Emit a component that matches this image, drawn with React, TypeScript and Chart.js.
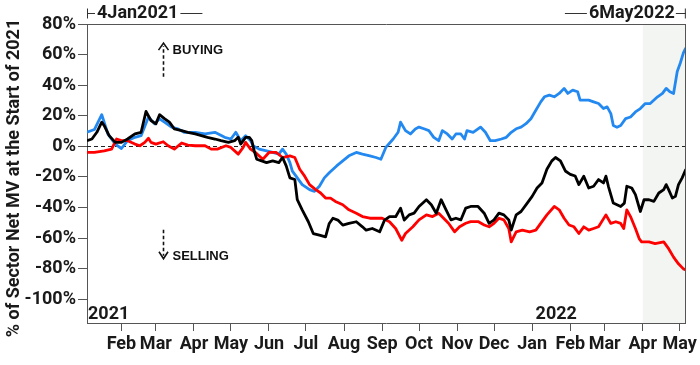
import React, { useEffect, useRef } from "react";
import { Chart, registerables } from "chart.js";

Chart.register(...registerables);

// x values are calendar days counted from 4 Jan 2021 (day 0) to 6 May 2022 (day 487)
const startDay = 0;
const endDay = 487;
const monthTickDays = [28, 56, 87, 117, 148, 178, 209, 240, 270, 301, 331, 362, 393, 421, 452, 482];
const monthTickLabels = ["Feb", "Mar", "Apr", "May", "Jun", "Jul", "Aug", "Sep", "Oct", "Nov", "Dec", "Jan", "Feb", "Mar", "Apr", "May"];
const yTickValues = [-100, -80, -60, -40, -20, 0, 20, 40, 60, 80];
const yearLabels = ["2021", "2022"];
const yearLabelDays = [0, 364];
const shadeStartDay = 452;
const startLabel = "4Jan2021";
const endLabel = "6May2022";
const yTitle = "% of Sector Net MV at the Start of 2021";

const blueDays = [0, 6, 12, 17, 23, 28, 33, 39, 44, 50, 55, 59, 63, 69, 74, 79, 88, 96, 104, 112, 117, 121, 125, 129, 133, 135, 140, 146, 151, 156, 159, 162, 165, 167, 170, 175, 181, 185, 189, 193, 197, 203, 208, 213, 219, 224, 230, 235, 239, 243, 249, 253, 255, 259, 263, 267, 270, 274, 278, 282, 286, 289, 293, 297, 300, 304, 307, 309, 314, 318, 320, 324, 328, 332, 337, 341, 345, 349, 353, 357, 361, 365, 369, 372, 376, 380, 384, 388, 391, 395, 399, 401, 404, 408, 412, 416, 420, 423, 426, 428, 431, 434, 438, 442, 446, 450, 454, 458, 464, 468, 471, 474, 477, 480, 482.5, 485, 487];
const blueValues = [9.2, 11, 20.7, 8.1, 1.5, -1.4, 3.7, 5.9, 7, 19.2, 14.7, 18, 15.8, 12.5, 11.4, 9.2, 9.2, 8.1, 9.2, 5.9, 4.8, 9.2, 3.7, 7, 3.7, 0.4, -1.8, -2.9, -4, -5.1, -1.8, -5.1, -10.6, -16.2, -19.5, -25, -28.3, -29.4, -26.1, -20.6, -17.3, -12.8, -9.5, -6.2, -4, -5.1, -6.2, -7.3, -8.4, -0.7, 4.8, 9.2, 15.8, 10.3, 8.1, 11.4, 12.6, 11.5, 10.3, 5.9, 3.7, 10.3, 8.1, 4.8, 8.1, 8.1, 4.8, 10.3, 9.2, 11.5, 12.6, 9.2, 3.7, 3.7, 4.8, 5.9, 9.2, 11.5, 12.6, 14.8, 18.1, 23.6, 29.1, 32.4, 33.5, 32.4, 34.6, 37.9, 34.6, 36.8, 35.7, 30.2, 30.2, 30.2, 29.1, 28, 24.7, 25.8, 21.4, 13.6, 12.5, 13.6, 18.1, 19.2, 22.5, 24.7, 28, 28, 32.4, 34.6, 37.9, 35.7, 34.6, 49, 54.5, 61.1, 64.4];

const blackDays = [0, 4, 8, 12, 14, 18, 23, 28, 33, 39, 44, 48, 52, 56, 59, 63, 67, 71, 77, 82, 88, 93, 98, 104, 109, 115, 120, 123, 125, 129, 132, 134, 136, 138, 142, 146, 151, 156, 159, 162, 165, 169, 171, 175, 180, 184, 189, 194, 197, 200, 204, 208, 213, 219, 224, 227, 232, 238, 242, 246, 251, 255, 258, 262, 266, 270, 276, 280, 284, 288, 292, 296, 300, 304, 308, 312, 318, 323, 327, 331, 335, 339, 343, 345, 349, 353, 358, 362, 366, 370, 374, 378, 381, 385, 389, 393, 397, 400, 404, 408, 412, 416, 420, 422, 424, 428, 431, 434, 437, 439, 443, 446, 450, 453, 457, 461, 465, 469, 471, 473, 476, 478.5, 481, 484, 487];
const blackValues = [3.7, 4.8, 9.2, 15.8, 13.6, 7, 2.6, 2.6, 4.8, 8.1, 9.2, 22.9, 16.9, 14.7, 20.7, 18.1, 15.8, 11.4, 10.3, 9.2, 8.1, 7, 5.9, 4.8, 3.7, 2.6, 3.7, 5.9, 1.5, 5.9, 5.9, 3.7, -3, -8.4, -9.5, -10.6, -9.5, -10.6, -7.3, -12.8, -20.6, -21.7, -34.9, -41.5, -49.3, -57, -58.1, -59.2, -50.4, -47, -48.2, -51.5, -50.4, -49.3, -52.6, -54.8, -53.7, -55.9, -48.2, -46, -46, -40.4, -48.2, -44.8, -43.7, -39.3, -34.9, -38.2, -43.7, -34.9, -41.5, -48.1, -47, -48.1, -40.4, -39.3, -39.3, -43.7, -50.3, -48.1, -43.7, -44.8, -48.1, -54.8, -44.8, -42.6, -37.1, -32.7, -27.2, -23.9, -15, -9.5, -7.3, -9.5, -16.1, -18.3, -19.4, -25, -19.5, -27.2, -26.1, -21.7, -23.9, -19.5, -26.1, -37.1, -38.2, -39.3, -37.1, -26.1, -27.2, -31.6, -42.6, -34.9, -34.9, -36, -30.5, -28.3, -25, -28.3, -33.8, -32.7, -25, -20.6, -15];

const redDays = [0, 6, 14, 20, 24, 28, 33, 39, 43, 47, 50, 52, 56, 62, 66, 71, 77, 82, 88, 96, 101, 106, 113, 117, 123, 127, 129, 133, 137, 143, 148, 154, 159, 165, 169, 173, 177, 181, 186, 190, 194, 198, 202, 208, 213, 219, 224, 230, 235, 240, 246, 251, 256, 259, 265, 270, 276, 281, 286, 290, 294, 299, 303, 308, 312, 318, 323, 327, 331, 335, 339, 343, 345, 349, 354, 360, 365, 370, 374, 380, 384, 388, 392, 396, 400, 404, 408, 412, 416, 422, 426, 430, 434, 436.5, 439, 442, 446, 449, 451, 457, 462, 469, 473, 477, 481, 485, 487];
const redValues = [-4, -4, -2.9, -1.8, 4.8, 3.7, 3.7, 1.5, 0.4, 2.6, 5.3, 2.6, 1.5, 3, 0.4, -1.8, 2.2, 0.8, 0.4, 0.4, -1.8, -1.8, 0.4, -0.7, -5.1, -0.7, 2.6, -1.8, -4, -8.4, -4, -4, -7.3, -6.2, -7.3, -15, -19.5, -25, -28.3, -30.5, -33.8, -33.8, -36, -38.2, -41.5, -43.7, -45.9, -47, -47, -47, -49.3, -53.7, -61.4, -57, -52.6, -48.1, -44.8, -45.9, -43.7, -47, -50.3, -55.9, -52.6, -50.3, -49.2, -49.2, -51.4, -52.6, -50.3, -47, -48.1, -53.7, -62.5, -55.9, -54.8, -55.9, -54.8, -49.2, -44.8, -39.3, -41.5, -47, -51.4, -52.6, -57, -52.6, -54.8, -53.7, -52.6, -44.8, -50.4, -49.3, -50.4, -53.7, -41.5, -45.9, -53.7, -60.3, -62.5, -62.5, -63.6, -62.5, -66.9, -72.4, -76.8, -80.1, -80.8];

const toPoints = (days: number[], values: number[]) => days.map((d, i) => ({ x: d, y: values[i] }));

const AXIS_COLOR = "#555555";
const TEXT_COLOR = "#1a1a1a";
const FONT_FAMILY = "Roboto";

const decorPlugin = {
  id: "decor",
  beforeDraw(chart: any) {
    const { ctx, chartArea, scales } = chart;
    const x = scales.x;
    const xs = x.getPixelForValue(shadeStartDay);
    ctx.save();
    ctx.fillStyle = "#f3f5f3";
    ctx.fillRect(xs, chartArea.top, chartArea.right - xs, chartArea.bottom - chartArea.top);
    ctx.restore();
  },
  beforeDatasetsDraw(chart: any) {
    const { ctx, chartArea, scales } = chart;
    const y0 = Math.round(scales.y.getPixelForValue(0)) + 0.5;
    ctx.save();
    ctx.strokeStyle = "#222";
    ctx.lineWidth = 1;
    ctx.setLineDash([4, 3]);
    ctx.beginPath();
    ctx.moveTo(chartArea.left, y0);
    ctx.lineTo(chartArea.right, y0);
    ctx.stroke();
    ctx.restore();
  },
  afterDraw(chart: any) {
    const { ctx, chartArea, scales } = chart;
    const x = scales.x;
    const y = scales.y;
    const L = chartArea.left;
    const R = chartArea.right;
    const T = chartArea.top;
    const B = chartArea.bottom;
    ctx.save();
    // top and right frame
    ctx.strokeStyle = AXIS_COLOR;
    ctx.lineWidth = 1;
    ctx.beginPath();
    ctx.moveTo(L, Math.round(T) + 0.5);
    ctx.lineTo(R, Math.round(T) + 0.5);
    ctx.moveTo(Math.round(R) - 0.5, T);
    ctx.lineTo(Math.round(R) - 0.5, B);
    ctx.stroke();

    // year labels
    ctx.fillStyle = TEXT_COLOR;
    ctx.font = `bold 18px ${FONT_FAMILY}`;
    ctx.textBaseline = "alphabetic";
    ctx.textAlign = "left";
    yearLabels.forEach((lab, i) => {
      ctx.fillText(lab, x.getPixelForValue(yearLabelDays[i]) + 1, B - 4);
    });

    // top date range markers
    const ty = 13.5;
    ctx.font = `bold 18px ${FONT_FAMILY}`;
    ctx.textBaseline = "middle";
    ctx.strokeStyle = "#333";
    ctx.lineWidth = 1;
    const lw = ctx.measureText(startLabel).width;
    const lx = x.getPixelForValue(startDay);
    ctx.textAlign = "left";
    ctx.fillText(startLabel, lx + 10, ty);
    ctx.beginPath();
    ctx.moveTo(lx + 0.5, ty - 5);
    ctx.lineTo(lx + 0.5, ty + 5);
    ctx.moveTo(lx, ty);
    ctx.lineTo(lx + 8, ty);
    ctx.moveTo(lx + 12 + lw, ty);
    ctx.lineTo(lx + 12 + lw + 22, ty);
    ctx.stroke();
    const rw = ctx.measureText(endLabel).width;
    const rx = x.getPixelForValue(endDay);
    ctx.textAlign = "right";
    ctx.fillText(endLabel, rx - 11, ty);
    ctx.beginPath();
    ctx.moveTo(rx - 0.5, ty - 5);
    ctx.lineTo(rx - 0.5, ty + 5);
    ctx.moveTo(rx, ty);
    ctx.lineTo(rx - 10, ty);
    ctx.moveTo(rx - 13 - rw, ty);
    ctx.lineTo(rx - 13 - rw - 22, ty);
    ctx.stroke();

    // buying / selling arrows
    const ax = Math.round(x.getPixelForValue(62)) + 0.5;
    ctx.strokeStyle = "#111";
    ctx.lineWidth = 1.6;
    const bTip = y.getPixelForValue(67.5);
    const bTail = y.getPixelForValue(45.5);
    ctx.setLineDash([3.5, 2.5]);
    ctx.beginPath();
    ctx.moveTo(ax, bTail);
    ctx.lineTo(ax, bTip + 3);
    ctx.stroke();
    const sTail = y.getPixelForValue(-54.5);
    const sTip = y.getPixelForValue(-73.5);
    ctx.beginPath();
    ctx.moveTo(ax, sTail);
    ctx.lineTo(ax, sTip - 3);
    ctx.stroke();
    ctx.setLineDash([]);
    ctx.beginPath();
    ctx.moveTo(ax - 5, bTip + 7);
    ctx.lineTo(ax, bTip);
    ctx.lineTo(ax + 5, bTip + 7);
    ctx.moveTo(ax - 4.5, sTip - 7);
    ctx.lineTo(ax, sTip);
    ctx.lineTo(ax + 4.5, sTip - 7);
    ctx.stroke();
    ctx.fillStyle = "#111";
    ctx.font = `bold 13px "Liberation Sans", Arial, sans-serif`;
    ctx.textAlign = "left";
    ctx.textBaseline = "middle";
    ctx.fillText("BUYING", ax + 9, y.getPixelForValue(62.5));
    ctx.fillText("SELLING", ax + 9, y.getPixelForValue(-72));

    // y axis title
    ctx.fillStyle = TEXT_COLOR;
    ctx.font = `bold 18px ${FONT_FAMILY}`;
    ctx.textAlign = "center";
    ctx.textBaseline = "middle";
    ctx.translate(14, 178);
    ctx.rotate(-Math.PI / 2);
    ctx.fillText(yTitle, 0, 0);
    ctx.restore();
  },
};

export default function App() {
  const canvasRef = useRef<HTMLCanvasElement | null>(null);

  useEffect(() => {
    if (!canvasRef.current) return;
    const chart = new Chart(canvasRef.current, {
      type: "line",
      data: {
        datasets: [
          {
            label: "Black",
            data: toPoints(blackDays, blackValues),
            borderColor: "#000000",
            borderWidth: 2.8,
            pointRadius: 0,
            tension: 0,
            borderJoinStyle: "round",
          },
          {
            label: "Red",
            data: toPoints(redDays, redValues),
            borderColor: "#ff0000",
            borderWidth: 2.8,
            pointRadius: 0,
            tension: 0,
            borderJoinStyle: "round",
          },
          {
            label: "Blue",
            data: toPoints(blueDays, blueValues),
            borderColor: "#2389f0",
            borderWidth: 2.8,
            pointRadius: 0,
            tension: 0,
            borderJoinStyle: "round",
          },
        ],
      },
      options: {
        animation: false,
        responsive: false,
        maintainAspectRatio: false,
        layout: { padding: { left: 0, top: 24, right: 13, bottom: 0 } },
        plugins: { legend: { display: false }, tooltip: { enabled: false }, title: { display: false } },
        scales: {
          x: {
            type: "linear",
            min: startDay,
            max: endDay,
            afterFit: (s: any) => {
              s.height = 42;
            },
            afterBuildTicks: (s: any) => {
              s.ticks = monthTickDays.map((v) => ({ value: v }));
            },
            ticks: {
              autoSkip: false,
              maxRotation: 0,
              padding: 3,
              color: TEXT_COLOR,
              font: { family: FONT_FAMILY, weight: "bold", size: 18 },
              callback: (_v: any, i: number) => monthTickLabels[i],
            },
            grid: { drawOnChartArea: false, drawTicks: true, tickLength: 8, color: AXIS_COLOR },
            border: { display: true, color: AXIS_COLOR, width: 1 },
          },
          y: {
            type: "linear",
            min: -115.5,
            max: 80,
            afterFit: (s: any) => {
              s.width = 87;
            },
            afterBuildTicks: (s: any) => {
              s.ticks = yTickValues.map((v) => ({ value: v }));
            },
            ticks: {
              autoSkip: false,
              padding: 2,
              color: TEXT_COLOR,
              font: { family: FONT_FAMILY, weight: "bold", size: 18 },
              callback: (v: any) => `${v}%`,
            },
            grid: { drawOnChartArea: false, drawTicks: true, tickLength: 9, color: AXIS_COLOR },
            border: { display: true, color: AXIS_COLOR, width: 1 },
          },
        },
      },
      plugins: [decorPlugin],
    });
    return () => chart.destroy();
  }, []);

  return (
    <div style={{ position: "fixed", left: 0, top: 0, width: 700, height: 365, background: "#ffffff" }}>
      <canvas ref={canvasRef} width={700} height={365} />
    </div>
  );
}
